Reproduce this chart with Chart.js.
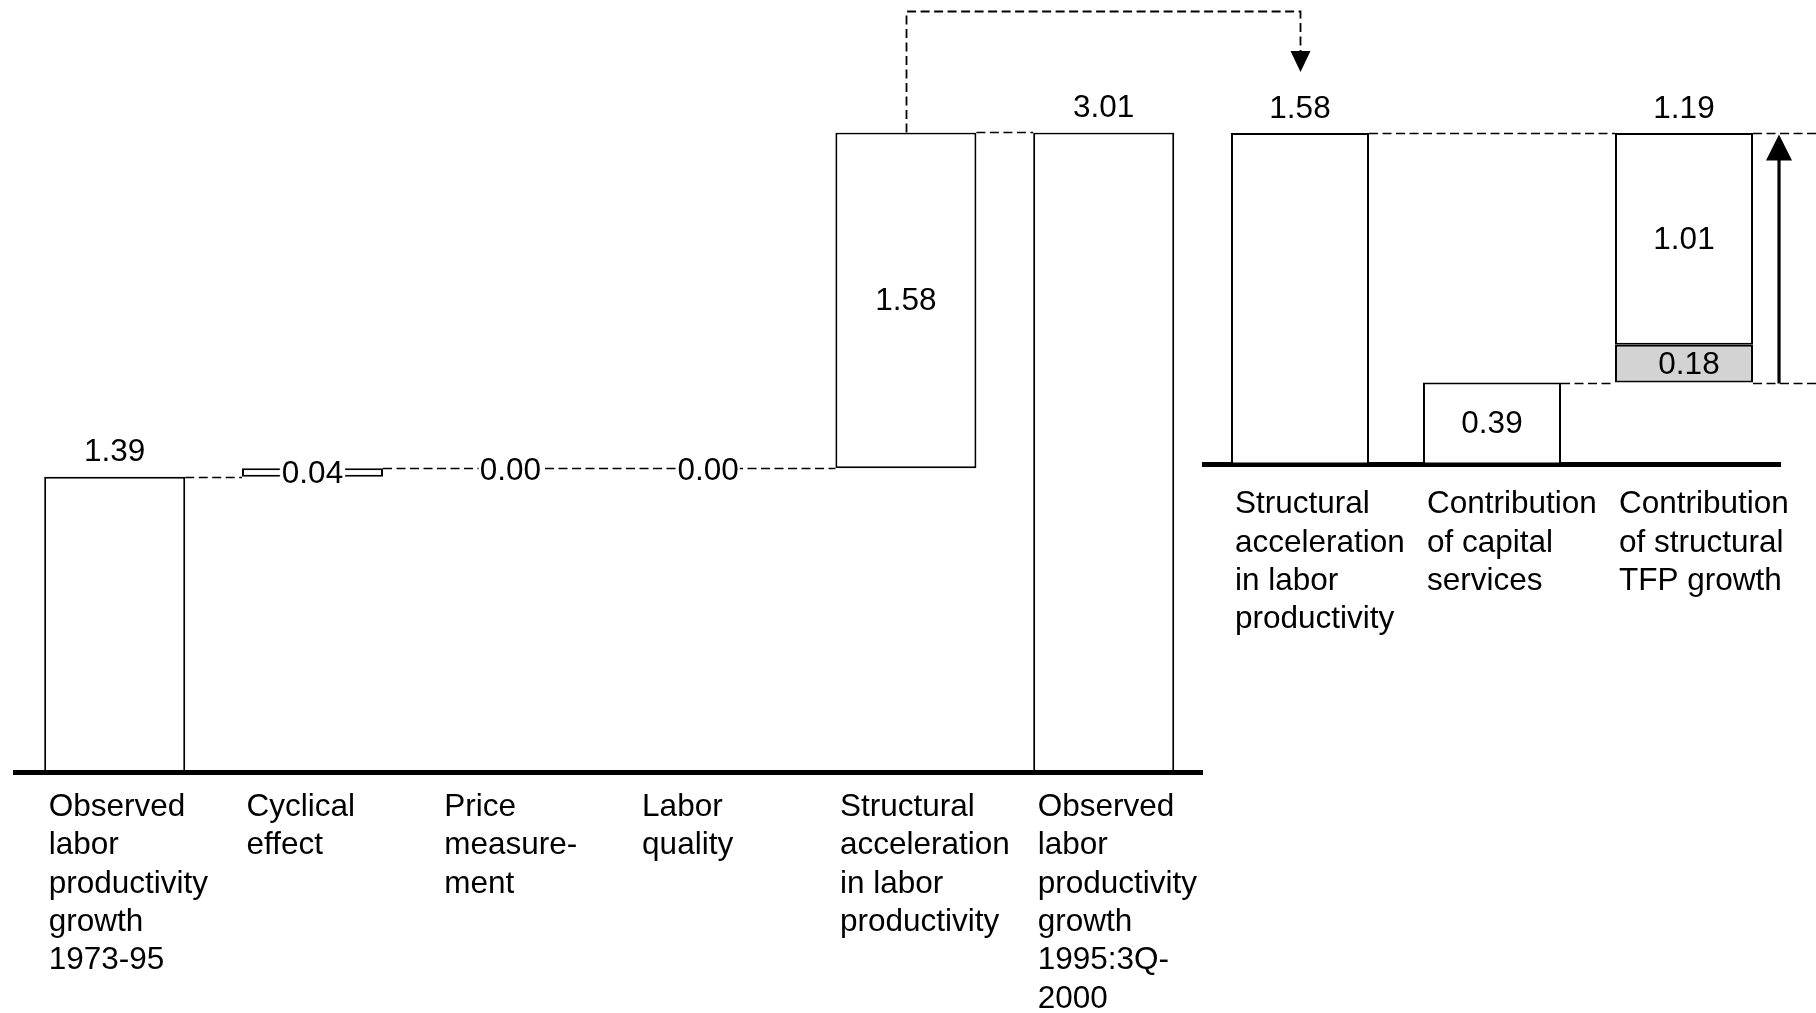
<!DOCTYPE html>
<html>
<head>
<meta charset="utf-8">
<title>Labor productivity acceleration</title>
<script src="https://cdn.jsdelivr.net/npm/chart.js@4/dist/chart.umd.min.js"></script>
<style>
  html, body { margin: 0; padding: 0; background: #fff; }
  #wrap { position: relative; width: 1816px; height: 1013px; background: #fff; }
  #wrap canvas { position: absolute; left: 0; top: 0; }
</style>
</head>
<body>
<div id="wrap">
  <canvas id="decomp" width="1816" height="1013"></canvas>
  <canvas id="sources" width="1816" height="1013"></canvas>
</div>
<script>
// Steps from 1973-95 labor productivity growth to 1995:3Q-2000 growth (percent per year)
const stepLabels = [
  ['Observed', 'labor', 'productivity', 'growth', '1973-95'],
  ['Cyclical', 'effect'],
  ['Price', 'measure-', 'ment'],
  ['Labor', 'quality'],
  ['Structural', 'acceleration', 'in labor', 'productivity'],
  ['Observed', 'labor', 'productivity', 'growth', '1995:3Q-', '2000']
];
const stepValues = [1.39, 0.04, 0.00, 0.00, 1.58, 3.01];
const stepIsTotal = [true, false, false, false, false, true];

// Sources of the structural acceleration
const sourceLabels = [
  ['Structural', 'acceleration', 'in labor', 'productivity'],
  ['Contribution', 'of capital', 'services'],
  ['Contribution', 'of structural', 'TFP growth']
];
const structuralAcceleration = 1.58;
const capitalContribution = 0.39;
const tfpParts = [0.18, 1.01];   // shaded lower part, upper part

const FONT_FAMILY = '"Liberation Sans", Arial, Helvetica, sans-serif';
const FONT_SIZE = 31.5;
const FONT = FONT_SIZE + 'px ' + FONT_FAMILY;
const DASH = [9, 4.5];

// Floating ranges for the waterfall: totals start at zero, steps start at the running level
const stepRanges = [];
const stepLevels = [];
let running = 0;
stepValues.forEach((v, i) => {
  if (stepIsTotal[i]) {
    stepRanges.push([0, v]);
    running = v;
  } else if (v === 0) {
    stepRanges.push(null);
  } else {
    stepRanges.push([running, +(running + v).toFixed(2)]);
    running = +(running + v).toFixed(2);
  }
  stepLevels.push(running);
});

const tfpTotal = +(tfpParts[0] + tfpParts[1]).toFixed(2);
const tfpSplit = +(capitalContribution + tfpParts[0]).toFixed(2);
const sourceOpen = [[0, structuralAcceleration], [0, capitalContribution], [tfpSplit, +(tfpSplit + tfpParts[1]).toFixed(2)]];
const sourceShaded = [null, null, [capitalContribution, tfpSplit]];

function dashed(ctx, x1, y1, x2, y2) {
  ctx.beginPath();
  ctx.moveTo(x1, y1);
  ctx.lineTo(x2, y2);
  ctx.stroke();
}

function valueText(ctx, text, cx, cy, pad) {
  ctx.font = FONT;
  ctx.textAlign = 'center';
  ctx.textBaseline = 'middle';
  if (pad !== undefined) {
    const w = ctx.measureText(text).width;
    ctx.fillStyle = '#fff';
    ctx.fillRect(cx - w / 2 - pad, cy - 12, w + 2 * pad, 24);
  }
  ctx.fillStyle = '#000';
  ctx.fillText(text, cx, cy + 1);
}

// keep the category band exactly where the layout padding puts it
function fixAxisBox(height) {
  return (s) => {
    s.height = height;
    s.paddingLeft = 0;
    s.paddingRight = 0;
  };
}

const stepMarks = {
  id: 'stepMarks',
  afterDatasetsDraw(chart) {
    const { ctx, scales: { x, y } } = chart;
    const bars = chart.getDatasetMeta(0).data;
    const half = bars[0].width / 2;
    ctx.save();
    ctx.strokeStyle = '#000';
    ctx.lineWidth = 1.5;
    ctx.setLineDash(DASH);
    let prevRight = null, level = 0;
    stepRanges.forEach((r, i) => {
      if (!r) return;
      const cx = x.getPixelForValue(i);
      if (prevRight !== null) {
        const ly = Math.round(y.getPixelForValue(level)) + 0.5;
        dashed(ctx, prevRight, ly, cx - half, ly);
      }
      prevRight = cx + half;
      level = r[1];
    });
    ctx.setLineDash([]);

    stepValues.forEach((v, i) => {
      const cx = x.getPixelForValue(i);
      const text = v.toFixed(2);
      const r = stepRanges[i];
      if (stepIsTotal[i]) {
        valueText(ctx, text, cx, y.getPixelForValue(r[1]) - 25);
      } else if (!r) {
        valueText(ctx, text, cx, y.getPixelForValue(stepLevels[i]) + 2, 1);
      } else {
        const top = y.getPixelForValue(r[1]);
        const bottom = y.getPixelForValue(r[0]);
        if (bottom - top < 30) {
          valueText(ctx, text, cx, (top + bottom) / 2 + 1, 2);
        } else {
          valueText(ctx, text, cx, (top + bottom) / 2);
        }
      }
    });
    ctx.restore();
  }
};

const tickFont = { family: FONT_FAMILY, size: FONT_SIZE, lineHeight: 1.219 };

const decompChart = new Chart(document.getElementById('decomp'), {
  type: 'bar',
  data: {
    labels: stepLabels,
    datasets: [{
      data: stepRanges,
      backgroundColor: '#ffffff',
      borderColor: '#000000',
      borderWidth: 2,
      borderSkipped: false,
      barPercentage: 0.713,
      categoryPercentage: 1
    }]
  },
  options: {
    responsive: false,
    animation: false,
    events: [],
    layout: { padding: { left: 15.8, right: 613.4, top: 132.4, bottom: 0 } },
    plugins: { legend: { display: false }, tooltip: { enabled: false } },
    scales: {
      x: {
        grid: { display: false, drawTicks: false },
        border: { display: true, color: '#000', width: 5 },
        ticks: {
          font: tickFont, color: '#000', align: 'start', labelOffset: -66,
          padding: 16, autoSkip: false, maxRotation: 0, minRotation: 0
        },
        afterFit: fixAxisBox(241)
      },
      y: { display: false, min: 0, max: stepValues[stepValues.length - 1] }
    }
  },
  plugins: [stepMarks]
});

const sourceMarks = {
  id: 'sourceMarks',
  afterDatasetsDraw(chart) {
    const { ctx, scales: { x, y } } = chart;
    const bars = chart.getDatasetMeta(0).data;
    const half = bars[0].width / 2;
    const left = (i) => x.getPixelForValue(i) - half;
    const right = (i) => x.getPixelForValue(i) + half;
    const yTop = Math.round(y.getPixelForValue(structuralAcceleration)) + 0.5;
    const yCap = Math.round(y.getPixelForValue(capitalContribution)) + 0.5;

    ctx.save();
    ctx.strokeStyle = '#000';
    ctx.fillStyle = '#000';
    ctx.lineWidth = 1.5;
    ctx.setLineDash(DASH);
    dashed(ctx, right(0), yTop, left(2), yTop);
    dashed(ctx, right(2), yTop, chart.width, yTop);
    dashed(ctx, right(1), yCap, left(2), yCap);
    dashed(ctx, right(2), yCap, chart.width, yCap);

    // dashed route carrying the structural acceleration across to the breakdown
    const fromX = Math.round(decompChart.scales.x.getPixelForValue(4)) + 0.5;
    const fromY = decompChart.scales.y.getPixelForValue(stepRanges[4][1]);
    const toX = Math.round(x.getPixelForValue(0)) + 0.5;
    const routeY = 11.5, tipY = 72, headLen = 21, headHalf = 10;
    ctx.lineWidth = 1.8;
    ctx.beginPath();
    ctx.moveTo(fromX, fromY);
    ctx.lineTo(fromX, routeY);
    ctx.lineTo(toX, routeY);
    ctx.lineTo(toX, tipY - headLen);
    ctx.stroke();
    ctx.setLineDash([]);
    ctx.beginPath();
    ctx.moveTo(toX - headHalf, tipY - headLen);
    ctx.lineTo(toX + headHalf, tipY - headLen);
    ctx.lineTo(toX, tipY);
    ctx.closePath();
    ctx.fill();

    // solid arrow spanning the TFP contribution
    const ax = right(2) + 26;
    ctx.lineWidth = 3.2;
    ctx.beginPath();
    ctx.moveTo(ax, yCap);
    ctx.lineTo(ax, yTop + 22);
    ctx.stroke();
    ctx.beginPath();
    ctx.moveTo(ax - 13, yTop + 27);
    ctx.lineTo(ax + 13, yTop + 27);
    ctx.lineTo(ax, yTop + 1);
    ctx.closePath();
    ctx.fill();

    // values
    const cx = (i) => x.getPixelForValue(i);
    const py = (v) => y.getPixelForValue(v);
    valueText(ctx, structuralAcceleration.toFixed(2), cx(0), py(structuralAcceleration) - 25);
    valueText(ctx, capitalContribution.toFixed(2), cx(1), (py(0) + py(capitalContribution)) / 2);
    valueText(ctx, tfpParts[0].toFixed(2), cx(2) + 5, (py(capitalContribution) + py(tfpSplit)) / 2 + 1);
    valueText(ctx, tfpParts[1].toFixed(2), cx(2), (py(tfpSplit) + py(sourceOpen[2][1])) / 2);
    valueText(ctx, tfpTotal.toFixed(2), cx(2), py(sourceOpen[2][1]) - 25);
    ctx.restore();
  }
};

const sourceChart = new Chart(document.getElementById('sources'), {
  type: 'bar',
  data: {
    labels: sourceLabels,
    datasets: [{
      data: sourceOpen,
      backgroundColor: '#ffffff',
      borderColor: '#000000',
      borderWidth: 2,
      borderSkipped: false,
      barPercentage: 0.719,
      categoryPercentage: 1,
      grouped: false
    }, {
      data: sourceShaded,
      backgroundColor: '#d3d3d3',
      borderColor: '#000000',
      borderWidth: 2,
      borderSkipped: false,
      barPercentage: 0.719,
      categoryPercentage: 1,
      grouped: false
    }]
  },
  options: {
    responsive: false,
    animation: false,
    events: [],
    layout: { padding: { left: 1204, right: 36, top: 133, bottom: 0 } },
    plugins: { legend: { display: false }, tooltip: { enabled: false } },
    scales: {
      x: {
        grid: { display: false, drawTicks: false },
        border: { display: true, color: '#000', width: 5 },
        ticks: {
          font: tickFont, color: '#000', align: 'start', labelOffset: -65,
          padding: 21, autoSkip: false, maxRotation: 0, minRotation: 0
        },
        afterFit: fixAxisBox(548.6)
      },
      y: { display: false, min: 0, max: structuralAcceleration }
    }
  },
  plugins: [sourceMarks]
});
</script>
</body>
</html>
